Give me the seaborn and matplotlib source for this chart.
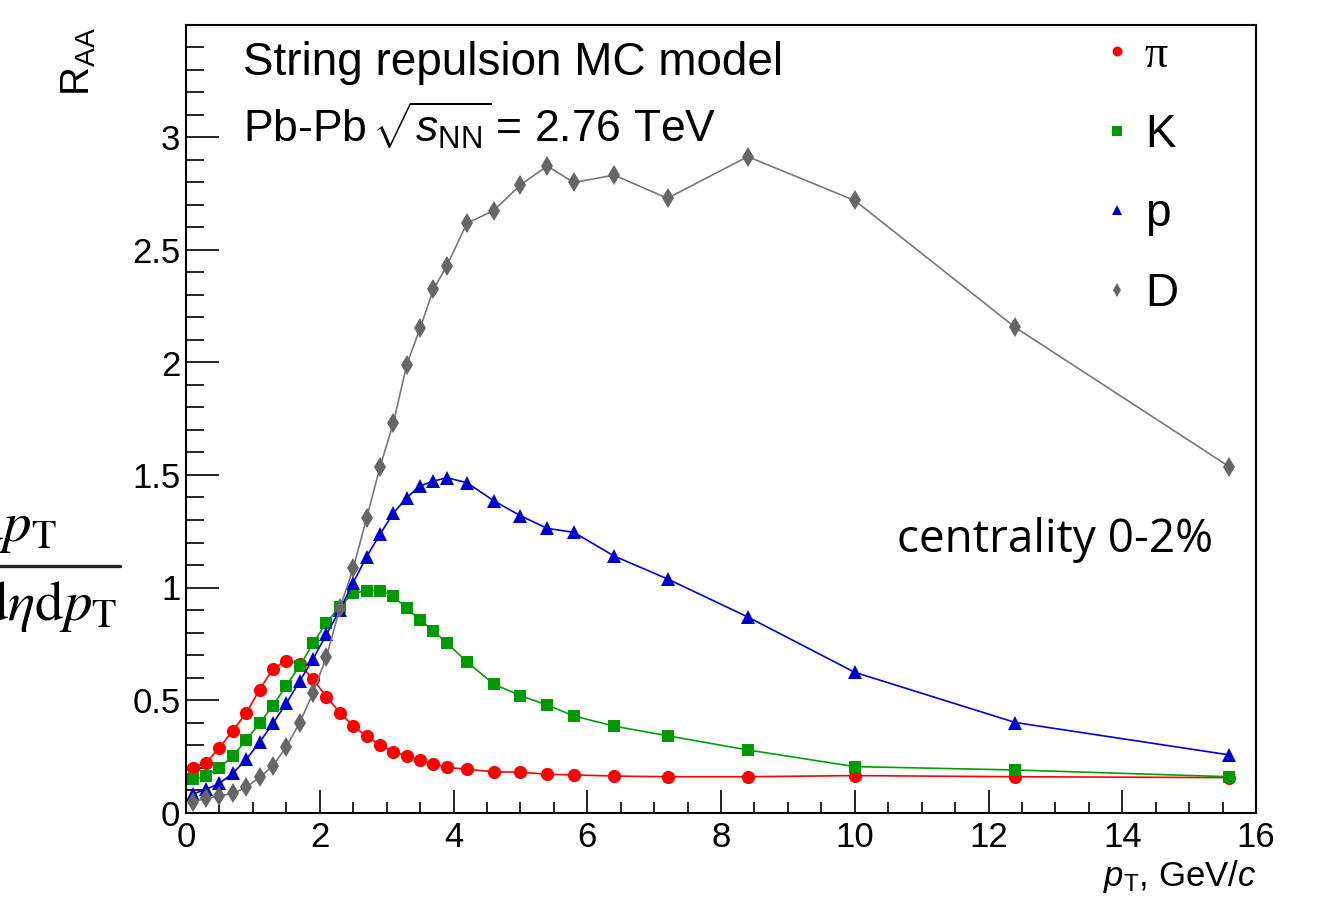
import numpy as np
import pandas as pd
import matplotlib
matplotlib.use("Agg")
import matplotlib.pyplot as plt
import seaborn as sns
from matplotlib.lines import Line2D
from matplotlib.ticker import MultipleLocator, FuncFormatter

# ---------------- data ----------------
pt = [0.1, 0.3, 0.5, 0.7, 0.9, 1.1, 1.3, 1.5, 1.7, 1.9, 2.1, 2.3, 2.5, 2.7, 2.9,
      3.1, 3.3, 3.5, 3.7, 3.9, 4.2, 4.6, 5.0, 5.4, 5.8, 6.4, 7.2, 8.4, 10.0, 12.4, 15.6]
raa_pi = [0.199, 0.221, 0.288, 0.364, 0.442, 0.546, 0.638, 0.675, 0.660, 0.592, 0.515,
          0.444, 0.384, 0.340, 0.300, 0.270, 0.251, 0.233, 0.216, 0.201, 0.192, 0.181,
          0.179, 0.170, 0.167, 0.162, 0.159, 0.159, 0.164, 0.159, 0.155]
raa_K = [0.147, 0.162, 0.199, 0.251, 0.322, 0.396, 0.475, 0.564, 0.651, 0.752, 0.844,
         0.915, 0.974, 0.986, 0.986, 0.962, 0.907, 0.857, 0.806, 0.754, 0.670, 0.571,
         0.519, 0.478, 0.429, 0.384, 0.341, 0.278, 0.204, 0.189, 0.159]
raa_p = [0.082, 0.103, 0.130, 0.174, 0.236, 0.312, 0.396, 0.485, 0.584, 0.682, 0.792,
         0.900, 1.021, 1.137, 1.236, 1.330, 1.399, 1.451, 1.473, 1.488, 1.466, 1.386,
         1.319, 1.263, 1.245, 1.140, 1.038, 0.869, 0.623, 0.400, 0.256]
raa_D = [0.048, 0.063, 0.073, 0.085, 0.112, 0.156, 0.207, 0.292, 0.399, 0.532, 0.692,
         0.907, 1.085, 1.307, 1.534, 1.730, 1.989, 2.152, 2.325, 2.429, 2.619, 2.675,
         2.789, 2.873, 2.800, 2.833, 2.730, 2.915, 2.720, 2.156, 1.537]
particles = ["π", "K", "p", "D"]
x_ticks = [0, 2, 4, 6, 8, 10, 12, 14, 16]
y_ticks = [0, 0.5, 1, 1.5, 2, 2.5, 3]

df = pd.DataFrame({
    "pt": pt * 4,
    "raa": raa_pi + raa_K + raa_p + raa_D,
    "particle": sum([[n] * len(pt) for n in particles], []),
})

# ---------------- style ----------------
sns.set_theme(style="white")
plt.rcParams["font.family"] = ["Liberation Sans", "DejaVu Sans"]
plt.rcParams["mathtext.fontset"] = "custom"
plt.rcParams["mathtext.rm"] = "Liberation Sans"
plt.rcParams["mathtext.it"] = "Liberation Sans:italic"
plt.rcParams["mathtext.bf"] = "Liberation Sans:bold"
for k in ["text.color", "axes.labelcolor", "xtick.color", "ytick.color", "axes.edgecolor"]:
    plt.rcParams[k] = "black"

W, H = 1323, 905
fig = plt.figure(figsize=(W / 100, H / 100), dpi=100)
fig.patch.set_facecolor("white")
ax = fig.add_axes([186 / W, 1 - 812.5 / H, (1256 - 186) / W, (812.5 - 25) / H])

styles = {
    "π": dict(color="#ff0000", marker="o", ms=9.5, lc="#ff0000"),
    "K": dict(color="#009900", marker="s", ms=9.3, lc="#00a000"),
    "p": dict(color="#0000cc", marker="^", ms=10.0, lc="#0000dd"),
    "D": dict(color="#666666", marker="d", ms=10.0, lc="#777777"),
}
for name in particles:
    st = styles[name]
    sub = df[df["particle"] == name]
    sns.lineplot(data=sub, x="pt", y="raa", ax=ax, estimator=None, sort=False,
                 color=st["lc"], linewidth=1.2, marker=st["marker"],
                 markersize=st["ms"], markerfacecolor=st["color"],
                 markeredgecolor=st["color"], markeredgewidth=0, legend=False)

ax.set_xlim(0, 16)
ax.set_ylim(0, 3.5)
ax.set_xticks(x_ticks)
ax.set_yticks(y_ticks)
ax.xaxis.set_minor_locator(MultipleLocator(0.5))
ax.yaxis.set_minor_locator(MultipleLocator(0.1))
ax.yaxis.set_major_formatter(FuncFormatter(lambda v, p: f"{v:g}"))
ax.xaxis.set_major_formatter(FuncFormatter(lambda v, p: f"{v:g}"))
ax.tick_params(axis="both", which="both", direction="in", colors="black",
               bottom=True, left=True, top=False, right=False,
               labelsize=25, width=1.2)
ax.tick_params(axis="y", which="major", length=24, pad=4)
ax.tick_params(axis="y", which="minor", length=13)
ax.tick_params(axis="x", which="major", length=16.5, pad=6)
ax.tick_params(axis="x", which="minor", length=8)
for s in ax.spines.values():
    s.set_visible(True)
    s.set_color("black")
    s.set_linewidth(1.5)
ax.grid(False)

ax.set_xlabel(r"$p_{\mathrm{T}}$, GeV/$c$", fontsize=25, loc="right")
ax.xaxis.set_label_coords(1.0, -0.058)
ax.set_ylabel(r"R$_{\mathrm{AA}}$", fontsize=29, loc="top")
ax.yaxis.set_label_coords(-0.082, 0.998)

ax.text((243 - 186) / 1070, (812.5 - 75) / 787.5, "String repulsion MC model",
        transform=ax.transAxes, fontsize=33, va="baseline", ha="left")
ax.text((243 - 186) / 1070, (812.5 - 142) / 787.5,
        r"Pb-Pb$\,\sqrt{s_{\mathrm{NN}}}\,$= 2.76 TeV",
        transform=ax.transAxes, fontsize=32, va="baseline", ha="left")
ax.text((897 - 186) / 1070, (812.5 - 552) / 787.5, "centrality 0-2%",
        transform=ax.transAxes, fontsize=33, va="baseline", ha="left",
        family=["Open Sans", "DejaVu Sans"])

# legend (markers only)
handles = [Line2D([], [], linestyle="none", marker=styles[n]["marker"],
                  markersize=styles[n]["ms"] * 0.75, color=styles[n]["color"],
                  markeredgewidth=0) for n in particles]
leg = ax.legend(handles, particles, loc="upper left",
                bbox_to_anchor=((1099 - 186) / 1070, 0.988), frameon=False,
                fontsize=33, handlelength=0.8, handletextpad=0.2,
                labelspacing=0.78, borderpad=0, borderaxespad=0)
leg.get_texts()[0].set_family(["Liberation Serif", "DejaVu Serif"])

# fragment of a formula cropped at the left edge
fig.text(57 / W, 1 - 541 / H, r"$\mathrm{d}p_{\mathrm{T}}$", ha="right",
         va="baseline", fontsize=41, math_fontfamily="stix")
fig.add_artist(Line2D([0, 120 / W], [1 - 566 / H, 1 - 566 / H],
                      color="#222222", linewidth=2.4, transform=fig.transFigure))
fig.text(117 / W, 1 - 620 / H, r"$\mathrm{d}\eta\mathrm{d}p_{\mathrm{T}}$", ha="right",
         va="baseline", fontsize=41, math_fontfamily="stix")

fig.savefig("out.png", dpi=100, facecolor="white")
